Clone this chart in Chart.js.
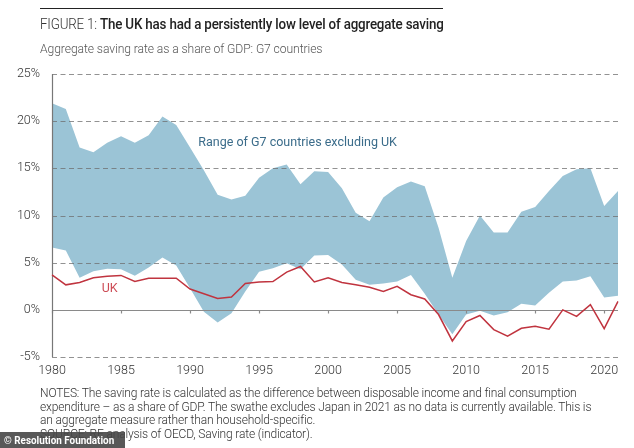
<!DOCTYPE html>
<html>
<head>
<meta charset="utf-8">
<script src="https://cdn.jsdelivr.net/npm/chart.js@4.4.0/dist/chart.umd.min.js"></script>
<style>
  html, body { margin:0; padding:0; background:#fff; }
  body { width:634px; height:448px; position:relative; overflow:hidden; font-family: Roboto, "Open Sans", sans-serif; }
  #cv { position:absolute; left:0; top:0; }
  .rule { position:absolute; left:40px; top:8px; width:403px; height:0; border-top:1px solid #222; }
  .title { position:absolute; left:40px; top:16px; font-size:14.5px; color:#222; white-space:nowrap; letter-spacing:-0.2px; transform:scaleX(0.922); transform-origin:0 0; }
  .title .lt { font-weight:300; color:#333; }
  .title .bd { font-weight:500; }
  .sub { position:absolute; left:40px; top:40px; font-size:13.5px; font-weight:300; color:#555; white-space:nowrap; letter-spacing:-0.1px; transform:scaleX(0.9); transform-origin:0 0; }
  .notes { position:absolute; left:40px; top:387px; font-size:12px; line-height:13.5px; font-weight:300; color:#333; letter-spacing:-0.15px; white-space:nowrap; }
  .wm { position:absolute; left:0; top:432px; width:125px; height:16px; background:rgba(70,70,70,0.9); box-sizing:border-box; overflow:hidden; }
  .wm span { position:absolute; left:4px; top:0; color:#fff; font-size:11.5px; font-weight:700; line-height:16px; white-space:nowrap; transform:scaleX(0.86); transform-origin:0 0; }
</style>
</head>
<body>
<canvas id="cv" width="634" height="448"></canvas>
<div class="rule"></div>
<div class="title"><span class="lt">FIGURE 1: </span><span class="bd">The UK has had a persistently low level of aggregate saving</span></div>
<div class="sub">Aggregate saving rate as a share of GDP: G7 countries</div>
<div class="notes">NOTES: The saving rate is calculated as the difference between disposable income and final consumption<br>expenditure – as a share of GDP. The swathe excludes Japan in 2021 as no data is currently available. This is<br>an aggregate measure rather than household-specific.<br>SOURCE: RF analysis of OECD, Saving rate (indicator).</div>
<div class="wm"><span>© Resolution Foundation</span></div>
<script>
// ---- data ----
const years = [1980,1981,1982,1983,1984,1985,1986,1987,1988,1989,1990,1991,1992,1993,1994,1995,1996,1997,1998,1999,2000,2001,2002,2003,2004,2005,2006,2007,2008,2009,2010,2011,2012,2013,2014,2015,2016,2017,2018,2019,2020,2021];
const g7Max = [21.9,21.3,17.2,16.7,17.7,18.4,17.7,18.5,20.5,19.6,17.2,14.8,12.2,11.7,12.1,14.0,15.0,15.4,13.3,14.7,14.6,12.9,10.3,9.4,11.9,13.0,13.6,13.1,8.7,3.4,7.3,10.0,8.2,8.2,10.4,10.9,12.6,14.2,14.9,15.0,11.0,12.6];
const g7Min = [6.6,6.3,3.4,4.1,4.35,4.3,3.6,4.5,5.55,4.7,2.3,-0.2,-1.35,-0.35,1.95,4.05,4.4,4.95,4.3,5.75,5.8,4.8,3.2,2.65,2.8,3.0,3.7,1.7,-0.5,-2.6,-0.5,-0.1,-0.6,-0.25,0.65,0.45,1.8,3.0,3.1,3.55,1.3,1.5];
const uk = [3.7,2.65,2.9,3.4,3.55,3.65,3.0,3.35,3.35,3.35,2.2,1.7,1.2,1.35,2.8,2.95,3.0,4.0,4.6,2.95,3.4,2.9,2.65,2.4,1.95,2.5,1.6,1.15,-0.5,-3.3,-1.25,-0.6,-2.1,-2.8,-1.95,-1.75,-2.05,0.0,-0.7,0.55,-2.0,0.9];
const yTicks = [-5,0,5,10,15,20,25];
const xTickYears = [1980,1985,1990,1995,2000,2005,2010,2015,2020];

const bandColor = '#9bc4d6';
const ukColor = '#c0343f';

const overlay = {
  id: 'overlay',
  beforeDatasetDraw(chart, args) {
    if (args.index !== 0) return;
    const ctx = chart.ctx, x = chart.scales.x, y = chart.scales.y, a = chart.chartArea;
    ctx.save();
    // dashed grid lines
    yTicks.forEach(v => {
      if (v === 0) return;
      const py = Math.round(y.getPixelForValue(v)) + 0.5;
      ctx.strokeStyle = 'rgba(110,110,110,0.75)';
      ctx.lineWidth = 1;
      ctx.setLineDash([5, 3.5]);
      ctx.beginPath(); ctx.moveTo(a.left, py); ctx.lineTo(a.right, py); ctx.stroke();
    });
    ctx.setLineDash([]);
    // zero line
    const p0 = Math.round(y.getPixelForValue(0)) + 0.5;
    ctx.strokeStyle = '#8a8a8a';
    ctx.lineWidth = 1.2;
    ctx.beginPath(); ctx.moveTo(a.left, p0); ctx.lineTo(a.right, p0); ctx.stroke();
    // tick marks on zero line
    xTickYears.forEach(yr => {
      const px = Math.round(x.getPixelForValue(years.indexOf(yr))) + 0.5;
      ctx.beginPath(); ctx.moveTo(px, p0); ctx.lineTo(px, p0 + 3); ctx.stroke();
    });
    // y axis line
    const lx = Math.round(a.left) + 0.5;
    ctx.strokeStyle = '#777';
    ctx.lineWidth = 1.2;
    ctx.beginPath(); ctx.moveTo(lx, y.getPixelForValue(25)); ctx.lineTo(lx, y.getPixelForValue(-5)); ctx.stroke();
    // labels
    ctx.font = '400 12.5px Roboto, sans-serif';
    ctx.textBaseline = 'middle';
    ctx.textAlign = 'left';
    ctx.fillStyle = '#3b6c8a';
    ctx.fillText('Range of G7 countries excluding UK', x.getPixelForValue(10.6), y.getPixelForValue(17.7));
    ctx.fillStyle = '#cc4b55';
    ctx.fillText('UK', x.getPixelForValue(3.6), y.getPixelForValue(2.2));
    ctx.restore();
  }
};

new Chart(document.getElementById('cv'), {
  type: 'line',
  data: {
    labels: years.map(String),
    datasets: [
      { label: 'UK', data: uk, borderColor: ukColor, borderWidth: 1.5, pointRadius: 0, fill: false, tension: 0 },
      { label: 'G7 max', data: g7Max, borderWidth: 0, borderColor: 'rgba(0,0,0,0)', backgroundColor: bandColor, pointRadius: 0, fill: '+1', tension: 0 },
      { label: 'G7 min', data: g7Min, borderWidth: 0, borderColor: 'rgba(0,0,0,0)', pointRadius: 0, fill: false, tension: 0 }
    ]
  },
  options: {
    responsive: false,
    animation: false,
    devicePixelRatio: 1,
    layout: { padding: { top: 74, left: 0, right: 16, bottom: 71 } },
    plugins: { legend: { display: false }, tooltip: { enabled: false } },
    scales: {
      x: {
        type: 'category',
        offset: false,
        grid: { display: false, drawTicks: false },
        border: { display: false },
        afterFit(s) { s.height = 20; },
        ticks: {
          autoSkip: false, maxRotation: 0, padding: 6,
          color: '#333', font: { family: 'Roboto', size: 12.5, weight: 300 },
          callback(v, i) { const yr = years[i]; return yr % 5 === 0 ? String(yr) : ''; }
        }
      },
      y: {
        min: -5, max: 25,
        grid: { display: false, drawTicks: false },
        border: { display: false },
        afterFit(s) { s.width = 52; },
        ticks: {
          stepSize: 5, padding: 12,
          color: '#333', font: { family: 'Roboto', size: 12.5, weight: 300 },
          callback(v) { return v + '%'; }
        }
      }
    }
  },
  plugins: [overlay]
});
</script>
</body>
</html>
